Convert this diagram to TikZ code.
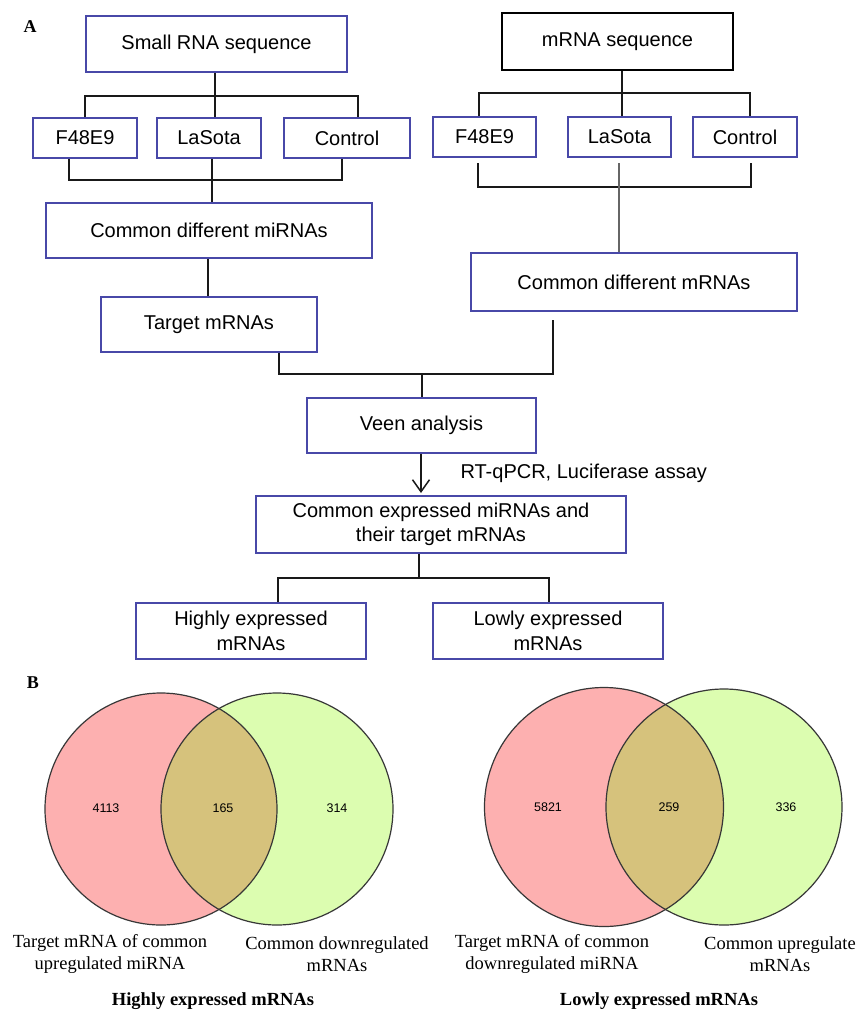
\documentclass[tikz,border=0pt]{standalone}
\usepackage{fontspec}
\setmainfont{Liberation Serif}
\newfontfamily\arialf{Liberation Sans}
\usetikzlibrary{arrows.meta}
\definecolor{boxblue}{RGB}{72,72,168}
\definecolor{vred}{RGB}{253,176,176}
\definecolor{vgreen}{RGB}{220,253,176}
\definecolor{vmix}{RGB}{214,194,124}
\definecolor{vline}{RGB}{55,55,55}
\tikzset{
  box/.style={draw=boxblue, line width=1.6pt, inner sep=0pt, align=center,
    font=\arialf\fontsize{20}{24.5}\selectfont},
  blackbox/.style={box, draw=black},
  conn/.style={line width=1.6pt, draw=black!90},
  vcirc/.style={circle, draw=vline, line width=1.2pt, inner sep=0pt},
  vnum/.style={font=\arialf\fontsize{12.5}{14}\selectfont},
  vlab/.style={align=center, font=\fontsize{18.5}{22}\selectfont},
  vtitle/.style={font=\bfseries\fontsize{18.5}{22}\selectfont},
  panel/.style={font=\bfseries\fontsize{18}{20}\selectfont}
}
\begin{document}
\begin{tikzpicture}[x=1pt,y=-1pt]
\useasboundingbox (0,0) rectangle (857,1010);
\fill[white] (0,0) rectangle (857,1010);

\node[panel] (pA) at (30,27) {A};
\node[panel] (pB) at (33,683) {B};

% top boxes
\node[box, minimum width=261pt, minimum height=56pt] (small) at (216.5,44) {Small RNA sequence};
\node[blackbox, minimum width=231pt, minimum height=57pt] (mrna) at (617.5,41.5) {mRNA sequence};

\node[box, minimum width=104pt, minimum height=40pt] (lF) at (85,138) {F48E9};
\node[box, minimum width=104pt, minimum height=40pt] (lL) at (209,138) {LaSota};
\node[box, minimum width=126pt, minimum height=40pt] (lC) at (347,138) {Control};

\node[box, minimum width=103pt, minimum height=40pt] (rF) at (484.5,137) {F48E9};
\node[box, minimum width=103pt, minimum height=40pt] (rL) at (619.5,137) {LaSota};
\node[box, minimum width=104pt, minimum height=40pt] (rC) at (745,137) {Control};

\node[box, minimum width=326pt, minimum height=55pt] (cmi) at (209,230.5) {Common different miRNAs};
\node[box, minimum width=326pt, minimum height=58pt] (cmr) at (634,282) {Common different mRNAs};
\node[box, minimum width=216pt, minimum height=55pt] (target) at (209,324.5) {Target mRNAs};
\node[box, minimum width=229pt, minimum height=55pt] (veen) at (421.5,425.5) {Veen analysis};
\node[box, minimum width=370pt, minimum height=57pt] (cexp) at (441,524.5) {Common expressed miRNAs and\\their target mRNAs};
\node[box, minimum width=230pt, minimum height=56pt] (high) at (251,631) {Highly expressed\\mRNAs};
\node[box, minimum width=230pt, minimum height=56pt] (low) at (548,631) {Lowly expressed\\mRNAs};

\node[anchor=west, font=\arialf\fontsize{20}{24}\selectfont] (rtq) at (457,473) {RT-qPCR, Luciferase assay};

% left group connectors
\coordinate (lx) at (215,96);
\coordinate (lbL) at (85,96);
\coordinate (lbR) at (358,96);
\draw[conn] (lx |- small.south) -- (lx |- lL.north);
\draw[conn] (lF.north) -- (lbL) -- (lbR) -- (lbR |- lC.north);
\coordinate (lb2L) at (69,180);
\coordinate (lb2R) at (342,180);
\coordinate (lmx) at (212,180);
\draw[conn] (lb2L |- lF.south) -- (lb2L) -- (lb2R) -- (lb2R |- lC.south);
\draw[conn] (lmx |- lL.south) -- (lmx |- cmi.north);
\coordinate (tx) at (208,260);
\draw[conn] (tx |- cmi.south) -- (tx |- target.north);

% right group connectors
\coordinate (rbx) at (622,93);
\coordinate (rbL) at (479,93);
\coordinate (rbR) at (750,93);
\draw[conn] (rbx |- mrna.south) -- (rbx |- rL.north);
\draw[conn] (rbL |- rF.north) -- (rbL) -- (rbR) -- (rbR |- rC.north);
\coordinate (rb2L) at (478,187);
\coordinate (rb2R) at (751,187);
\coordinate (rb2Lt) at (478,163);
\coordinate (rb2Rt) at (751,163);
\draw[conn] (rb2Lt) -- (rb2L) -- (rb2R) -- (rb2Rt);
\coordinate (rLt) at (619,163);
\draw[line width=1.1pt, draw=black!60] (rLt) -- (rLt |- cmr.north);

% merge to Veen
\coordinate (jL) at (279,374);
\coordinate (jR) at (553,374);
\coordinate (jRt) at (553,320);
\coordinate (vx) at (422,374);
\draw[conn] (jL |- target.south) -- (jL) -- (jR) -- (jRt);
\draw[conn] (vx) -- (vx |- veen.north);
\coordinate (ax) at (421,493);
\draw[conn, -{Straight Barb[length=12pt,width=17pt,line width=1.5pt]}] (ax |- veen.south) -- (ax);

% split
\coordinate (hmid) at (419,578);
\coordinate (hbL) at (278,578);
\coordinate (hbR) at (549,578);
\draw[conn] (hmid |- cexp.south) -- (hmid);
\draw[conn] (hbL |- high.north) -- (hbL) -- (hbR) -- (hbR |- low.north);

% Venn left
\fill[vred] (161,809) circle (116);
\fill[vgreen] (277,809) circle (116);
\begin{scope}
\clip (161,809) circle (116);
\fill[vmix] (277,809) circle (116);
\end{scope}
\node[vcirc, minimum size=232pt] (vl1) at (161,809) {};
\node[vcirc, minimum size=232pt] (vl2) at (277,809) {};
\node[vnum] (n1) at (106,808) {4113};
\node[vnum] (n2) at (223,808) {165};
\node[vnum] (n3) at (337,808) {314};
\node[vlab] (l1) at (110,954) {Target mRNA of common\\upregulated miRNA};
\node[vlab] (l2) at (337,954) {Common downregulated\\mRNAs};
\node[vtitle] (t1) at (213,1001) {Highly expressed mRNAs};

% Venn right
\fill[vred] (604,807) circle (119.5);
\fill[vgreen] (724,807) circle (118);
\begin{scope}
\clip (604,807) circle (119.5);
\fill[vmix] (724,807) circle (118);
\end{scope}
\node[vcirc, minimum size=239pt] (vr1) at (604,807) {};
\node[vcirc, minimum size=236pt] (vr2) at (724,807) {};
\node[vnum] (n4) at (548,807) {5821};
\node[vnum] (n5) at (669,807) {259};
\node[vnum] (n6) at (786,807) {336};
\node[vlab] (l3) at (552,954) {Target mRNA of common\\downregulated miRNA};
\node[vlab] (l4) at (780,954) {Common upregulate\\mRNAs};
\node[vtitle] (t2) at (659,1001) {Lowly expressed mRNAs};
\end{tikzpicture}
\end{document}
